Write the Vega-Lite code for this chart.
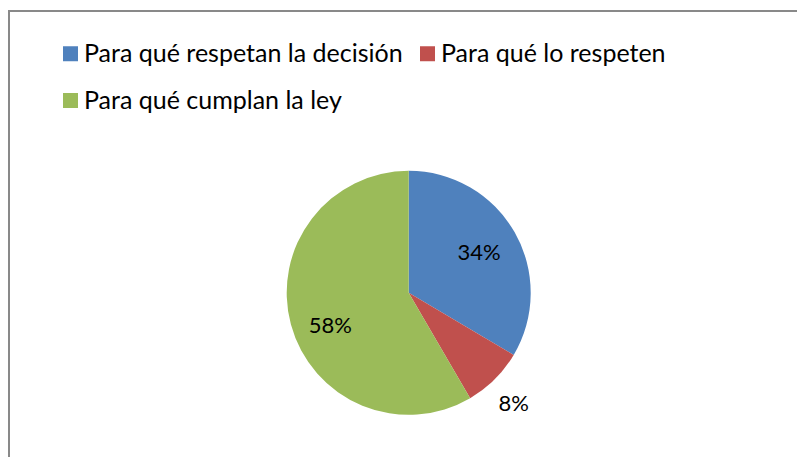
{
  "$schema": "https://vega.github.io/schema/vega-lite/v6.json",
  "width": 797,
  "height": 457,
  "autosize": {"type": "fit", "contains": "padding"},
  "padding": {"left": 9, "top": 11, "right": 0, "bottom": 0},
  "background": "white",
  "view": {"stroke": "#898989", "strokeWidth": 2, "fill": "white", "strokeDash": [788, 1234, 446]},
  "data": {
    "values": [
      {"categoria": "Para qué respetan la decisión", "valor": 33.5, "etiqueta": "34%", "orden": 1},
      {"categoria": "Para qué lo respeten", "valor": 8.1, "etiqueta": "8%", "orden": 2},
      {"categoria": "Para qué cumplan la ley", "valor": 58.4, "etiqueta": "58%", "orden": 3}
    ]
  },
  "encoding": {
    "theta": {"field": "valor", "type": "quantitative", "stack": true},
    "order": {"field": "orden", "type": "quantitative"}
  },
  "layer": [
    {
      "mark": {"type": "arc", "radius": 122, "xOffset": 5.7, "yOffset": 58.8},
      "encoding": {
        "color": {
          "field": "categoria",
          "type": "nominal",
          "sort": null,
          "scale": {
            "domain": ["Para qué respetan la decisión", "Para qué lo respeten", "Para qué cumplan la ley"],
            "range": ["#4F81BD", "#C0504D", "#9BBB59"]
          },
          "legend": {
            "title": null,
            "orient": "none",
            "legendX": 49,
            "legendY": 30,
            "direction": "horizontal",
            "columns": 2,
            "padding": 0,
            "symbolType": "square",
            "symbolSize": 225,
            "symbolStrokeWidth": 0,
            "labelFont": "Lato",
            "labelFontSize": 25,
            "labelColor": "#000000",
            "labelLimit": 600,
            "labelOffset": 1,
            "columnPadding": 12,
            "rowPadding": 21
          }
        }
      }
    },
    {
      "mark": {"type": "text", "radius": 81, "xOffset": 5.7, "yOffset": 58.8, "font": "Lato", "fontSize": 22, "color": "#000000"},
      "encoding": {
        "text": {"field": "etiqueta", "type": "nominal"},
        "opacity": {"condition": {"test": "datum.orden == 1", "value": 1}, "value": 0}
      }
    },
    {
      "mark": {"type": "text", "radius": 153, "thetaOffset": 0.026, "xOffset": 5.7, "yOffset": 58.8, "font": "Lato", "fontSize": 22, "color": "#000000"},
      "encoding": {
        "text": {"field": "etiqueta", "type": "nominal"},
        "opacity": {"condition": {"test": "datum.orden == 2", "value": 1}, "value": 0}
      }
    },
    {
      "mark": {"type": "text", "radius": 85, "thetaOffset": -0.134, "xOffset": 5.7, "yOffset": 58.8, "font": "Lato", "fontSize": 22, "color": "#000000"},
      "encoding": {
        "text": {"field": "etiqueta", "type": "nominal"},
        "opacity": {"condition": {"test": "datum.orden == 3", "value": 1}, "value": 0}
      }
    }
  ]
}
